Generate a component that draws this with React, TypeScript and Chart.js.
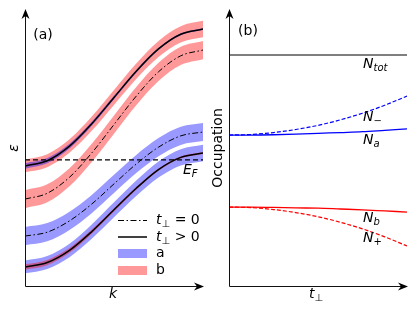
import { useEffect, useRef } from "react";
import { Chart, registerables } from "chart.js";
Chart.register(...registerables);

// ---------- Panel (a): band structure ----------
const K = [0, 0.125, 0.25, 0.375, 0.5, 0.625, 0.75, 0.875, 1];
// t_perp = 0 bands
const BAND_B0 = [3.15, 3.36, 3.94, 4.82, 5.85, 6.88, 7.76, 8.34, 8.55];
const BAND_A0 = [1.81, 1.95, 2.36, 2.97, 3.7, 4.42, 5.03, 5.44, 5.58];
// t_perp > 0 bands
const BAND_UP = [4.35, 4.54, 5.07, 5.88, 6.83, 7.78, 8.59, 9.12, 9.31];
const BAND_LO = [0.69, 0.85, 1.29, 1.97, 2.76, 3.54, 4.22, 4.66, 4.82];
// orbital admixture (minority weight) of the hybridised bands
const MIX_WEIGHT = [0.3, 0.29, 0.26, 0.22, 0.18, 0.15, 0.12, 0.11, 0.1];
const ORB_WIDTH = 0.33;
const FERMI = 4.57;

// ---------- Panel (b): occupations ----------
const T = [0, 0.125, 0.25, 0.375, 0.5, 0.625, 0.75, 0.875, 1];
const N_TOT = [8.37, 8.37, 8.37, 8.37, 8.37, 8.37, 8.37, 8.37, 8.37];
const N_MINUS = [5.47, 5.49, 5.56, 5.67, 5.82, 6.02, 6.26, 6.55, 6.88];
const N_A = [5.47, 5.47, 5.48, 5.5, 5.53, 5.56, 5.59, 5.64, 5.69];
const N_B = [2.86, 2.86, 2.85, 2.83, 2.82, 2.79, 2.76, 2.72, 2.68];
const N_PLUS = [2.86, 2.84, 2.77, 2.66, 2.51, 2.31, 2.07, 1.78, 1.45];

const BLUE_FILL = "rgba(0,0,255,0.4)";
const RED_FILL = "rgba(255,0,0,0.4)";
const FONT = "'DejaVu Sans', 'Liberation Sans', sans-serif";
const DASHDOT = [6, 2.5, 1.5, 2.5];

const pts = (xs: number[], ys: number[]) => xs.map((x, i) => ({ x, y: ys[i] }));

function band(center: number[], half: number[], color: string, order: number) {
  return [
    {
      data: pts(K, center.map((c, i) => c + half[i])),
      fill: "+1",
      backgroundColor: color,
      borderWidth: 0,
      pointRadius: 0,
      cubicInterpolationMode: "monotone",
      order,
    },
    {
      data: pts(K, center.map((c, i) => c - half[i])),
      fill: false,
      borderWidth: 0,
      pointRadius: 0,
      cubicInterpolationMode: "monotone",
      order,
    },
  ];
}

function line(xs: number[], ys: number[], color: string, width: number, dash: number[], order: number) {
  return {
    data: pts(xs, ys),
    borderColor: color,
    borderWidth: width,
    borderDash: dash,
    pointRadius: 0,
    fill: false,
    cubicInterpolationMode: "monotone",
    order,
  };
}

function drawAxes(ctx: CanvasRenderingContext2D, a: any) {
  const x0 = Math.round(a.left) + 0.5;
  const y0 = Math.round(a.bottom) + 0.5;
  const top = a.top - 1;
  const right = a.right + 1;
  ctx.save();
  ctx.strokeStyle = "#111";
  ctx.lineWidth = 1;
  ctx.beginPath();
  ctx.moveTo(x0, y0);
  ctx.lineTo(x0, top + 6);
  ctx.moveTo(x0, y0);
  ctx.lineTo(right - 6, y0);
  ctx.stroke();
  ctx.fillStyle = "#000";
  ctx.beginPath();
  ctx.moveTo(x0, top);
  ctx.lineTo(x0 - 4, top + 10);
  ctx.lineTo(x0, top + 7);
  ctx.lineTo(x0 + 4, top + 10);
  ctx.closePath();
  ctx.fill();
  ctx.beginPath();
  ctx.moveTo(right, y0);
  ctx.lineTo(right - 10, y0 - 4);
  ctx.lineTo(right - 7, y0);
  ctx.lineTo(right - 10, y0 + 4);
  ctx.closePath();
  ctx.fill();
  ctx.restore();
}

function mathWidth(ctx: CanvasRenderingContext2D, base: string, sub: string, subItalic = true, rest = "") {
  ctx.font = `italic 14px ${FONT}`;
  let w = ctx.measureText(base).width;
  ctx.font = `${subItalic ? "italic " : ""}10px ${FONT}`;
  w += ctx.measureText(sub).width;
  if (rest) {
    ctx.font = `14px ${FONT}`;
    w += ctx.measureText(rest).width;
  }
  return w;
}

function drawMath(
  ctx: CanvasRenderingContext2D,
  x: number,
  y: number,
  base: string,
  sub: string,
  subItalic = true,
  rest = "",
  color = "#000"
) {
  ctx.save();
  ctx.fillStyle = color;
  ctx.textAlign = "left";
  ctx.textBaseline = "middle";
  ctx.font = `italic 14px ${FONT}`;
  ctx.fillText(base, x, y);
  let cx = x + ctx.measureText(base).width;
  ctx.font = `${subItalic ? "italic " : ""}10px ${FONT}`;
  ctx.fillText(sub, cx, y + 4);
  cx += ctx.measureText(sub).width;
  if (rest) {
    ctx.font = `14px ${FONT}`;
    ctx.fillText(rest, cx, y);
  }
  ctx.restore();
}

function plainText(ctx: CanvasRenderingContext2D, text: string, x: number, y: number, opts: any = {}) {
  ctx.save();
  ctx.fillStyle = "#000";
  ctx.font = `${opts.italic ? "italic " : ""}14px ${FONT}`;
  ctx.textAlign = opts.align || "center";
  ctx.textBaseline = "middle";
  ctx.translate(x, y);
  if (opts.rotate) ctx.rotate(-Math.PI / 2);
  ctx.fillText(text, 0, 0);
  ctx.restore();
}

const decoA = {
  id: "decoA",
  afterDraw(chart: any) {
    const ctx: CanvasRenderingContext2D = chart.ctx;
    drawAxes(ctx, chart.chartArea);
    plainText(ctx, "(a)", 43, 35);
    plainText(ctx, "ε", 14, 148, { italic: true, rotate: true });
    plainText(ctx, "k", 113, 294, { italic: true });
    drawMath(ctx, 183, 170, "E", "F");
    // legend
    ctx.save();
    ctx.strokeStyle = "#000";
    ctx.lineWidth = 1;
    ctx.setLineDash(DASHDOT);
    ctx.beginPath();
    ctx.moveTo(118, 220.5);
    ctx.lineTo(147, 220.5);
    ctx.stroke();
    ctx.setLineDash([]);
    ctx.lineWidth = 1.5;
    ctx.beginPath();
    ctx.moveTo(118, 237);
    ctx.lineTo(147, 237);
    ctx.stroke();
    ctx.fillStyle = BLUE_FILL;
    ctx.fillRect(118, 249, 29, 9);
    ctx.fillStyle = RED_FILL;
    ctx.fillRect(118, 266, 29, 9);
    ctx.restore();
    drawMath(ctx, 156, 220, "t", "⊥", false, " = 0");
    drawMath(ctx, 156, 237, "t", "⊥", false, " > 0");
    plainText(ctx, "a", 156, 253, { align: "left" });
    plainText(ctx, "b", 156, 270, { align: "left" });
  },
};

const decoB = {
  id: "decoB",
  afterDraw(chart: any) {
    const ctx: CanvasRenderingContext2D = chart.ctx;
    drawAxes(ctx, chart.chartArea);
    const o = 208;
    plainText(ctx, "(b)", 248 - o, 31);
    plainText(ctx, "Occupation", 218 - o, 148, { rotate: true });
    const tw = mathWidth(ctx, "t", "⊥", false);
    drawMath(ctx, 316 - o - tw / 2, 294, "t", "⊥", false);
    drawMath(ctx, 363 - o, 64, "N", "tot");
    drawMath(ctx, 363 - o, 117, "N", "−", false);
    drawMath(ctx, 363 - o, 140, "N", "a");
    drawMath(ctx, 363 - o, 218, "N", "b");
    drawMath(ctx, 363 - o, 238, "N", "+", false);
  },
};

const up = MIX_WEIGHT.map((w) => ORB_WIDTH * (1 - w));
const mix = MIX_WEIGHT.map((w) => ORB_WIDTH * w);
const full = K.map(() => ORB_WIDTH);

function makeA(canvas: HTMLCanvasElement) {
  const datasets: any[] = [
    ...band(BAND_A0, full, BLUE_FILL, 30),
    ...band(BAND_B0, full, RED_FILL, 30),
    ...band(BAND_UP, up, RED_FILL, 25),
    ...band(BAND_UP, mix, BLUE_FILL, 20),
    ...band(BAND_LO, up, BLUE_FILL, 25),
    ...band(BAND_LO, mix, RED_FILL, 20),
    line(K, BAND_B0, "#000", 1, DASHDOT, 5),
    line(K, BAND_A0, "#000", 1, DASHDOT, 5),
    line(K, BAND_UP, "#000", 1.5, [], 4),
    line(K, BAND_LO, "#000", 1.5, [], 4),
    line([0, 1], [FERMI, FERMI], "#000", 1.2, [5, 3], 1),
  ];
  return new Chart(canvas, {
    type: "line",
    data: { datasets },
    options: {
      animation: false,
      responsive: false,
      layout: { padding: { left: 25, right: 5, top: 10, bottom: 26 } },
      scales: {
        x: { type: "linear", min: 0, max: 1, display: false },
        y: { type: "linear", min: 0, max: 10, display: false },
      },
      plugins: { legend: { display: false }, tooltip: { enabled: false }, filler: { propagate: false } },
      events: [],
    },
    plugins: [decoA],
  } as any);
}

function makeB(canvas: HTMLCanvasElement) {
  const datasets: any[] = [
    line(T, N_TOT, "#000", 1.2, [], 1),
    line(T, N_MINUS, "#0000ff", 1.2, [4, 2], 1),
    line(T, N_A, "#0000ff", 1.3, [], 1),
    line(T, N_B, "#ff0000", 1.3, [], 1),
    line(T, N_PLUS, "#ff0000", 1.2, [4, 2], 1),
  ];
  return new Chart(canvas, {
    type: "line",
    data: { datasets },
    options: {
      animation: false,
      responsive: false,
      layout: { padding: { left: 21, right: 9, top: 10, bottom: 26 } },
      scales: {
        x: { type: "linear", min: 0, max: 1, display: false },
        y: { type: "linear", min: 0, max: 10, display: false },
      },
      plugins: { legend: { display: false }, tooltip: { enabled: false } },
      events: [],
    },
    plugins: [decoB],
  } as any);
}

export default function App() {
  const refA = useRef<HTMLCanvasElement>(null);
  const refB = useRef<HTMLCanvasElement>(null);
  useEffect(() => {
    const a = makeA(refA.current!);
    const b = makeB(refB.current!);
    return () => {
      a.destroy();
      b.destroy();
    };
  }, []);
  return (
    <div style={{ position: "absolute", left: 0, top: 0, width: 416, height: 312, background: "#fff" }}>
      <canvas ref={refA} width={208} height={312} style={{ position: "absolute", left: 0, top: 0, width: 208, height: 312 }} />
      <canvas ref={refB} width={208} height={312} style={{ position: "absolute", left: 208, top: 0, width: 208, height: 312 }} />
    </div>
  );
}
